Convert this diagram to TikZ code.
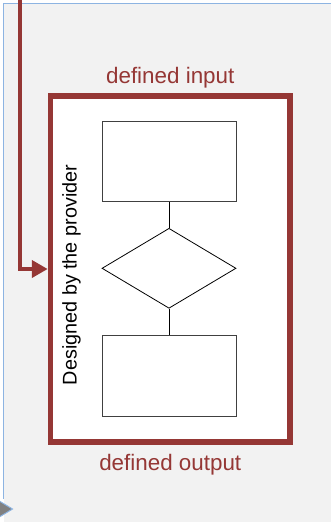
\documentclass[tikz,border=0pt]{standalone}
\usepackage{fontspec}
\setmainfont{Liberation Sans}
\usepackage{xcolor}
\usepackage{tikz}
\usetikzlibrary{arrows.meta}
\usetikzlibrary{shapes.geometric}
\usetikzlibrary{positioning}

\definecolor{provred}{RGB}{149,55,53}
\definecolor{pageblue}{RGB}{141,180,226}
\definecolor{pagegray}{RGB}{242,242,242}

\begin{document}
\begin{tikzpicture}[x = 1pt, y = -1pt,
  stepbox/.style = {draw = black!75, fill = white, line width = 1pt, minimum width = 134pt, minimum height = 80pt, inner sep = 0pt},
  choice/.style = {diamond, draw = black, fill = white, line width = 0.8pt, minimum width = 134pt, minimum height = 80pt, inner sep = 0pt},
  redlabel/.style = {text = provred, font = \fontsize{22.4}{26}\selectfont}]
\useasboundingbox (0, 0) rectangle (331, 522);
\def\midX{169}

% page
\fill [pagegray] (3.5, 3.5) rectangle (340, 530);
\draw [pageblue, line width = 1.2pt] (3.5, 499) -- (3.5, 3.5) -- (340, 3.5);
\draw [pageblue, fill = black!50, line width = 1pt] (-4, 499) -- (12.5, 509) -- (-4, 519) -- cycle;

% provider box
\node [draw = provred, line width = 5.5pt, fill = white, minimum width = 239.5pt, minimum height = 346pt, inner sep = 0pt] (provider) at (170.25, 269) {};
\node [redlabel, above = 2pt of provider] (input) {defined input};
\node [redlabel, below = 5.5pt of provider] (output) {defined output};
\node [rotate = 90, anchor = base, font = \fontsize{19.8}{24}\selectfont] (designer) at (76.5, 275) {Designed by the provider};

% feed line
\coordinate (feed) at (20, -2);
\draw [-{Triangle[length = 16pt, width = 17pt]}, provred, line width = 4pt] (feed) |- (provider.west);

% steps
\node [stepbox] (first) at (\midX, 161.7) {};
\node [choice] (check) at (\midX, 268.3) {};
\node [stepbox, minimum height = 81pt] (last) at (\midX, 375.5) {};
\draw [line width = 0.9pt] (first) -- (check);
\draw [line width = 0.9pt] (check) -- (last);
\end{tikzpicture}
\end{document}
